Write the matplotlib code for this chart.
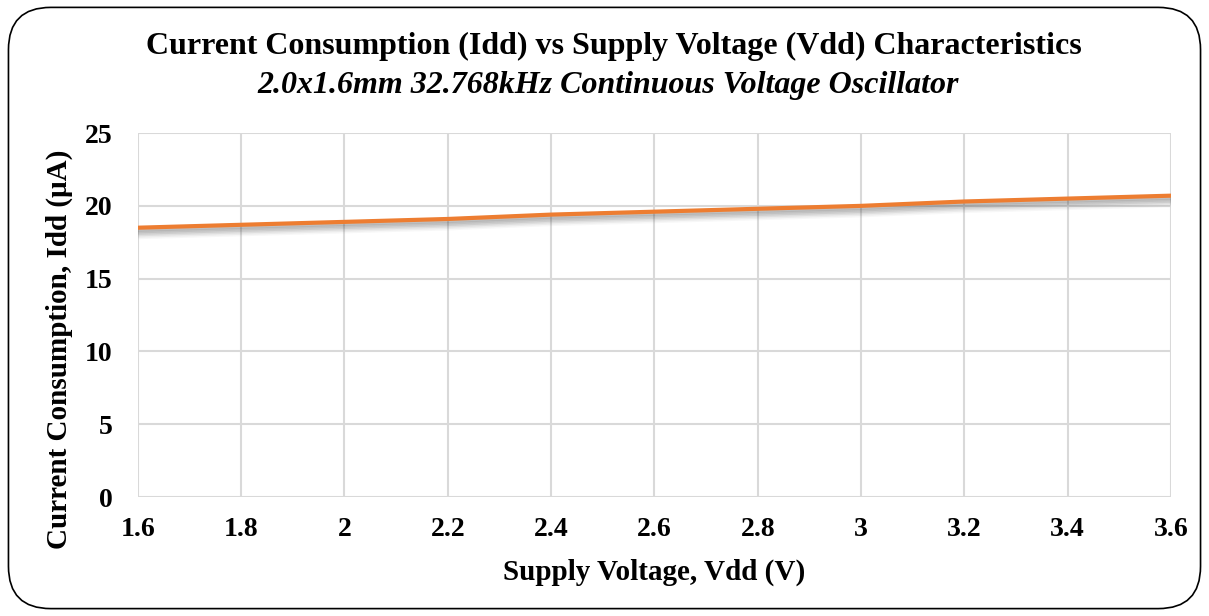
import matplotlib.pyplot as plt
from matplotlib.patches import FancyBboxPatch

# data
vdd = [1.6, 1.8, 2.0, 2.2, 2.4, 2.6, 2.8, 3.0, 3.2, 3.4, 3.6]
idd = [18.5, 18.7, 18.9, 19.1, 19.4, 19.6, 19.8, 20.0, 20.3, 20.5, 20.7]
xticks = [1.6, 1.8, 2.0, 2.2, 2.4, 2.6, 2.8, 3.0, 3.2, 3.4, 3.6]
xticklabels = ['1.6', '1.8', '2', '2.2', '2.4', '2.6', '2.8', '3', '3.2', '3.4', '3.6']
yticks = [0, 5, 10, 15, 20, 25]

plt.rcParams['font.family'] = ['Liberation Serif', 'DejaVu Serif']

fig = plt.figure(figsize=(12.09, 6.16), dpi=100)
ax = fig.add_axes([0.114, 0.193, 0.8546, 0.591])

# soft shadow under the line
for off, a in [(0.6, 0.04), (0.5, 0.06), (0.4, 0.08), (0.3, 0.1), (0.2, 0.12), (0.1, 0.14)]:
    ax.plot(vdd, [v - off for v in idd], color='#404040', lw=4, alpha=a,
            solid_capstyle='butt', zorder=2)
ax.plot(vdd, idd, color='#ed7d31', lw=3, solid_capstyle='butt', zorder=3)

ax.set_xlim(1.6, 3.6)
ax.set_ylim(0, 25)
ax.set_xticks(xticks)
ax.set_xticklabels(xticklabels)
ax.set_yticks(yticks)
ax.grid(True, color='#d9d9d9', lw=1.5)
ax.set_axisbelow(True)
for s in ax.spines.values():
    s.set_visible(False)
ax.tick_params(length=0, labelsize=20)
ax.tick_params(axis='x', pad=14)
ax.tick_params(axis='y', pad=18)
for lab in ax.get_xticklabels() + ax.get_yticklabels():
    lab.set_fontweight('bold')

ax.set_xlabel('Supply Voltage, Vdd (V)', fontsize=21, fontweight='bold', va='center')
ax.xaxis.set_label_coords(0.5, -0.206)
ax.set_ylabel('Current Consumption, Idd (\u03bcA)', fontsize=21, fontweight='bold', va='center')
ax.yaxis.set_label_coords(-0.0755, 0.407)

fig.text(0.508, 0.924, 'Current Consumption (Idd) vs Supply Voltage (Vdd) Characteristics',
         ha='center', va='center', fontsize=23, fontweight='bold')
fig.text(0.503, 0.862, '2.0x1.6mm 32.768kHz Continuous Voltage Oscillator',
         ha='center', va='center', fontsize=23, fontweight='bold', style='italic')

box = FancyBboxPatch((0.007, 0.012), 0.986, 0.976, transform=fig.transFigure,
                     boxstyle='round,pad=0,rounding_size=0.035', fill=False,
                     ec='black', lw=1.2, mutation_aspect=1209 / 616)
fig.patches.append(box)

fig.savefig('out.png', dpi=100)
